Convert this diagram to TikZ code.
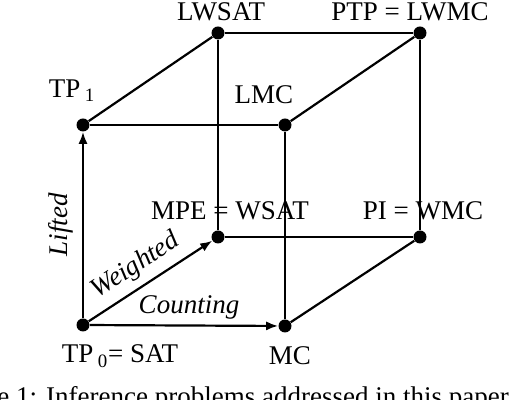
\documentclass[tikz,border=0pt]{standalone}
\usepackage{fontspec}
\setmainfont{Liberation Serif}
\usepackage{tikz}
\usetikzlibrary{arrows.meta, positioning}
\tikzset{
  vertex/.style={circle, fill=black, inner sep=0pt, minimum size=6.5pt},
  lbl/.style={font=\fontsize{13.5}{15}\selectfont, inner sep=0pt},
  edgelabel/.style={font=\fontsize{13.5}{15}\selectfont\itshape, inner sep=0pt},
  edge/.style={line width=1.1pt, color=black},
  arrow/.style={-{Latex[length=6pt, width=4.6pt]}, line width=1.1pt, color=black}
}

\begin{document}
\begin{tikzpicture}[x=0.5pt, y=-0.5pt]
  \useasboundingbox (0,0) rectangle (510,400);

  % front face
  \node[vertex] (tp0) at (83,325) {};
  \node[vertex] (mc) at (285,326) {};
  \node[vertex] (tp1) at (83,125) {};
  \node[vertex] (lmc) at (285,125) {};

  % back face
  \node[vertex] (wsat) at (218,237) {};
  \node[vertex] (wmc) at (420,237) {};
  \node[vertex] (lwsat) at (218,33) {};
  \node[vertex] (lwmc) at (420,33) {};

  % edges
  \draw[edge] (tp1) -- (lmc);
  \draw[edge] (lmc) -- (mc);
  \draw[edge] (tp1) -- (lwsat);
  \draw[edge] (lmc) -- (lwmc);
  \draw[edge] (lwsat) -- (lwmc);
  \draw[edge] (lwsat) -- (wsat);
  \draw[edge] (lwmc) -- (wmc);
  \draw[edge] (wsat) -- (wmc);
  \draw[edge] (mc) -- (wmc);

  % the three directions
  \draw[arrow] (tp0) -- (tp1);
  \draw[arrow] (tp0) -- (wsat);
  \draw[arrow] (tp0) -- (mc);

  % labels
  \node[lbl] (l-lwsat) at (221,12) {LWSAT};
  \node[lbl] (l-lwmc) at (410,12) {PTP = LWMC};
  \node[lbl] (l-tp1) at (72,91) {TP\,\textsubscript{1}};
  \node[lbl] (l-lmc) at (264,95) {LMC};
  \node[lbl] (l-wsat) at (230,211) {MPE = WSAT};
  \node[lbl] (l-wmc) at (423,211) {PI = WMC};
  \node[lbl] (l-tp0) at (120,356) {TP\,\textsubscript{0}= SAT};
  \node[lbl] (l-mc) at (290,356) {MC};

  \node[edgelabel, rotate=90] (lifted) at (61,225) {Lifted};
  \node[edgelabel, rotate=33] (weighted) at (136,266) {Weighted};
  \node[edgelabel] (counting) at (189,307) {Counting};

  % caption, cut off by the page
  \node[lbl, anchor=base west] (caption) at (-3,406)
    {e 1: Inference problems addressed in this paper. T};
\end{tikzpicture}
\end{document}
